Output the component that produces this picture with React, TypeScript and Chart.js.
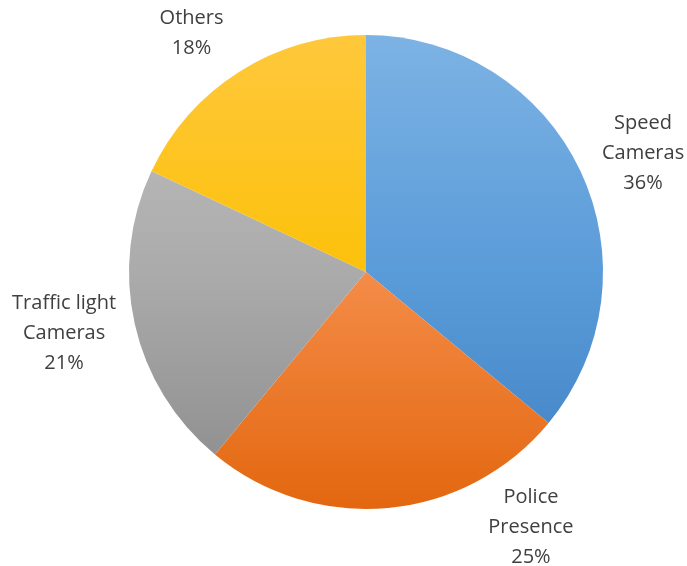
import React, { useEffect, useRef } from "react";
import { Chart, registerables } from "chart.js";

Chart.register(...registerables);

const categories = ["Speed Cameras", "Police Presence", "Traffic light Cameras", "Others"];
const labelLines = [["Speed", "Cameras"], ["Police", "Presence"], ["Traffic light", "Cameras"], ["Others"]];
const values = [36, 25, 21, 18];
const gradientStops = [
  ["#7DB3E4", "#5A9BD9", "#3F80C2"],
  ["#FFB080", "#F48C48", "#E3670F"],
  ["#C2C2C2", "#ABABAB", "#8A8A8A"],
  ["#FFC83C", "#FCC10A", "#E8B000"],
];
// label anchor offsets relative to pie centre, in units of radius
const labelAnchors = [
  [1.169, -0.502],
  [0.696, 1.078],
  [-1.274, 0.257],
  [-0.736, -1.006],
];

const labelPlugin = {
  id: "outerLabels",
  afterDatasetsDraw(chart: any) {
    const meta = chart.getDatasetMeta(0);
    const ctx = chart.ctx;
    const arc0 = meta.data[0];
    const cx = arc0.x;
    const cy = arc0.y;
    const r = arc0.outerRadius;
    const lh = 30;
    ctx.save();
    ctx.fillStyle = "#404040";
    ctx.font = "20px 'Open Sans', Arial, sans-serif";
    ctx.textAlign = "center";
    ctx.textBaseline = "middle";
    meta.data.forEach((_: any, i: number) => {
      const lines = [...labelLines[i], values[i] + "%"];
      const ax = cx + labelAnchors[i][0] * r;
      const ay = cy + labelAnchors[i][1] * r;
      const top = ay - ((lines.length - 1) * lh) / 2;
      lines.forEach((t, j) => ctx.fillText(t, ax, top + j * lh));
    });
    ctx.restore();
  },
};

export default function App() {
  const ref = useRef<HTMLCanvasElement>(null);
  useEffect(() => {
    if (!ref.current) return;
    const chart = new Chart(ref.current, {
      type: "pie",
      data: {
        labels: categories,
        datasets: [
          {
            data: values,
            borderWidth: 0,
            backgroundColor: (c: any) => {
              const area = c.chart.chartArea;
              const stops = gradientStops[c.dataIndex];
              if (!area) return stops[1];
              const g = c.chart.ctx.createLinearGradient(0, area.top, 0, area.bottom);
              g.addColorStop(0, stops[0]);
              g.addColorStop(0.5, stops[1]);
              g.addColorStop(1, stops[2]);
              return g;
            },
          },
        ],
      },
      options: {
        responsive: false,
        animation: false,
        layout: { padding: { left: 129, right: 84, top: 35, bottom: 57 } },
        plugins: {
          legend: { display: false },
          tooltip: { enabled: false },
        },
      },
      plugins: [labelPlugin],
    });
    return () => chart.destroy();
  }, []);
  return (
    <div style={{ position: "fixed", left: 0, top: 0, width: 687, height: 566, background: "#fff" }}>
      <canvas ref={ref} width={687} height={566} style={{ width: 687, height: 566 }} />
    </div>
  );
}
